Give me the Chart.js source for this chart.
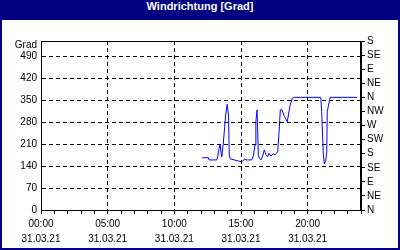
<!DOCTYPE html>
<html>
<head>
<meta charset="utf-8">
<script src="https://cdn.jsdelivr.net/npm/chart.js@4/dist/chart.umd.min.js"></script>
<style>
  body { margin: 0; background: #fff; }
  #frame { position: relative; width: 400px; height: 250px; background: #000080; }
  #title { position: absolute; left: 0; top: 0; width: 400px; height: 20px; line-height: 19px;
           text-align: center; color: #fff; font: bold 11px "Liberation Sans", Arial, sans-serif; }
  #inner { position: absolute; left: 2px; top: 20px; width: 396px; height: 228px; background: #fff; }
</style>
</head>
<body>
<div id="frame">
  <div id="title">Windrichtung [Grad]</div>
  <div id="inner"><canvas id="chart" width="396" height="228"></canvas></div>
</div>
<script>
// Messzeiten und Windrichtung in Grad
const times = ['12:06', '12:33', '12:36', '13:11', '13:15', '13:21', '13:26', '13:31', '13:33', '13:40',
  '13:51', '13:58', '14:04', '14:07', '14:12', '14:30', '15:03', '15:15', '15:28', '15:48',
  '15:55', '16:03', '16:07', '16:12', '16:15', '16:18', '16:23', '16:30', '16:36', '16:45',
  '16:53', '17:00', '17:06', '17:15', '17:25', '17:33', '17:45', '17:51', '17:57', '18:03',
  '18:15', '18:28', '18:41', '18:51', '19:00', '20:59', '21:03', '21:08', '21:10', '21:15',
  '21:21', '21:26', '21:28', '21:41', '23:43'];
const degrees = [167, 167, 160, 160, 170, 195, 210, 178, 170, 210,
  304, 338, 300, 176, 163, 160, 154, 162, 160, 160,
  172, 208, 282, 320, 256, 175, 165, 160, 170, 192,
  176, 170, 181, 172, 179, 176, 186, 245, 320, 322,
  300, 282, 335, 357, 360, 360, 314, 224, 182, 147,
  157, 186, 314, 360, 360];

// Achsen
const dateLabel = '31.03.21';
const directionLabels = ['N', 'NE', 'E', 'SE', 'S', 'SW', 'W', 'NW', 'N', 'NE', 'E', 'SE', 'S'];

function toHours(t) {
  const parts = t.split(':');
  return parseInt(parts[0]) + parseInt(parts[1]) / 60;
}

const points = times.map((t, i) => ({ x: toHours(t), y: degrees[i] }));

Chart.defaults.font.family = '"Liberation Sans", Arial, sans-serif';
Chart.defaults.font.size = 10;
Chart.defaults.color = '#000';

// Rahmen um die Zeichenflaeche und "Grad" oben links
const framePlugin = {
  id: 'framePlugin',
  afterDraw(chart) {
    const ctx = chart.ctx;
    const a = chart.chartArea;
    ctx.save();
    ctx.strokeStyle = '#000';
    ctx.lineWidth = 1;
    ctx.setLineDash([]);
    ctx.strokeRect(Math.round(a.left) + 0.5, Math.round(a.top) + 0.5,
      Math.round(a.right - a.left) - 1, Math.round(a.bottom - a.top));
    ctx.font = '10px "Liberation Sans", Arial, sans-serif';
    ctx.fillStyle = '#000';
    ctx.textAlign = 'right';
    ctx.textBaseline = 'middle';
    ctx.fillText('Grad', a.left - 4, a.top + 4);
    ctx.restore();
  }
};

new Chart(document.getElementById('chart'), {
  type: 'line',
  data: {
    datasets: [{
      data: points,
      borderColor: '#0000ff',
      borderWidth: 1,
      pointRadius: 0,
      tension: 0,
      fill: false
    }]
  },
  options: {
    responsive: false,
    animation: false,
    layout: { padding: { top: 21, left: 0, right: 0, bottom: 0 } },
    plugins: { legend: { display: false }, tooltip: { enabled: false } },
    scales: {
      x: {
        type: 'linear',
        min: 0,
        max: 24,
        afterFit(scale) { scale.height = 38; },
        ticks: {
          stepSize: 1,
          autoSkip: false,
          maxRotation: 0,
          padding: 3,
          font: { size: 10, lineHeight: 1.5 },
          callback: v => v % 5 === 0 ? [String(v).padStart(2, '0') + ':00', dateLabel] : ''
        },
        grid: {
          color: c => (c.tick && c.tick.value % 5 === 0 && c.tick.value > 0) ? '#000' : 'rgba(0,0,0,0)',
          tickColor: '#000',
          tickLength: 4,
          tickBorderDash: [],
          lineWidth: 1
        },
        border: { color: '#000', dash: [4, 3] }
      },
      y: {
        position: 'left',
        min: 0,
        max: 540,
        afterFit(scale) { scale.width = 39; },
        ticks: { stepSize: 70, includeBounds: false, padding: 4, autoSkip: false },
        grid: {
          drawTicks: false,
          color: c => (c.tick && c.tick.value > 0) ? '#000' : 'rgba(0,0,0,0)'
        },
        border: { color: '#000', dash: [4, 3] }
      },
      y2: {
        position: 'right',
        min: 0,
        max: 540,
        afterFit(scale) { scale.width = 37; },
        ticks: {
          stepSize: 45,
          padding: 2,
          autoSkip: false,
          callback: (v, i) => directionLabels[i]
        },
        grid: { drawOnChartArea: false, tickLength: 4, color: '#000' },
        border: { color: '#000' }
      }
    }
  },
  plugins: [framePlugin]
});
</script>
</body>
</html>
